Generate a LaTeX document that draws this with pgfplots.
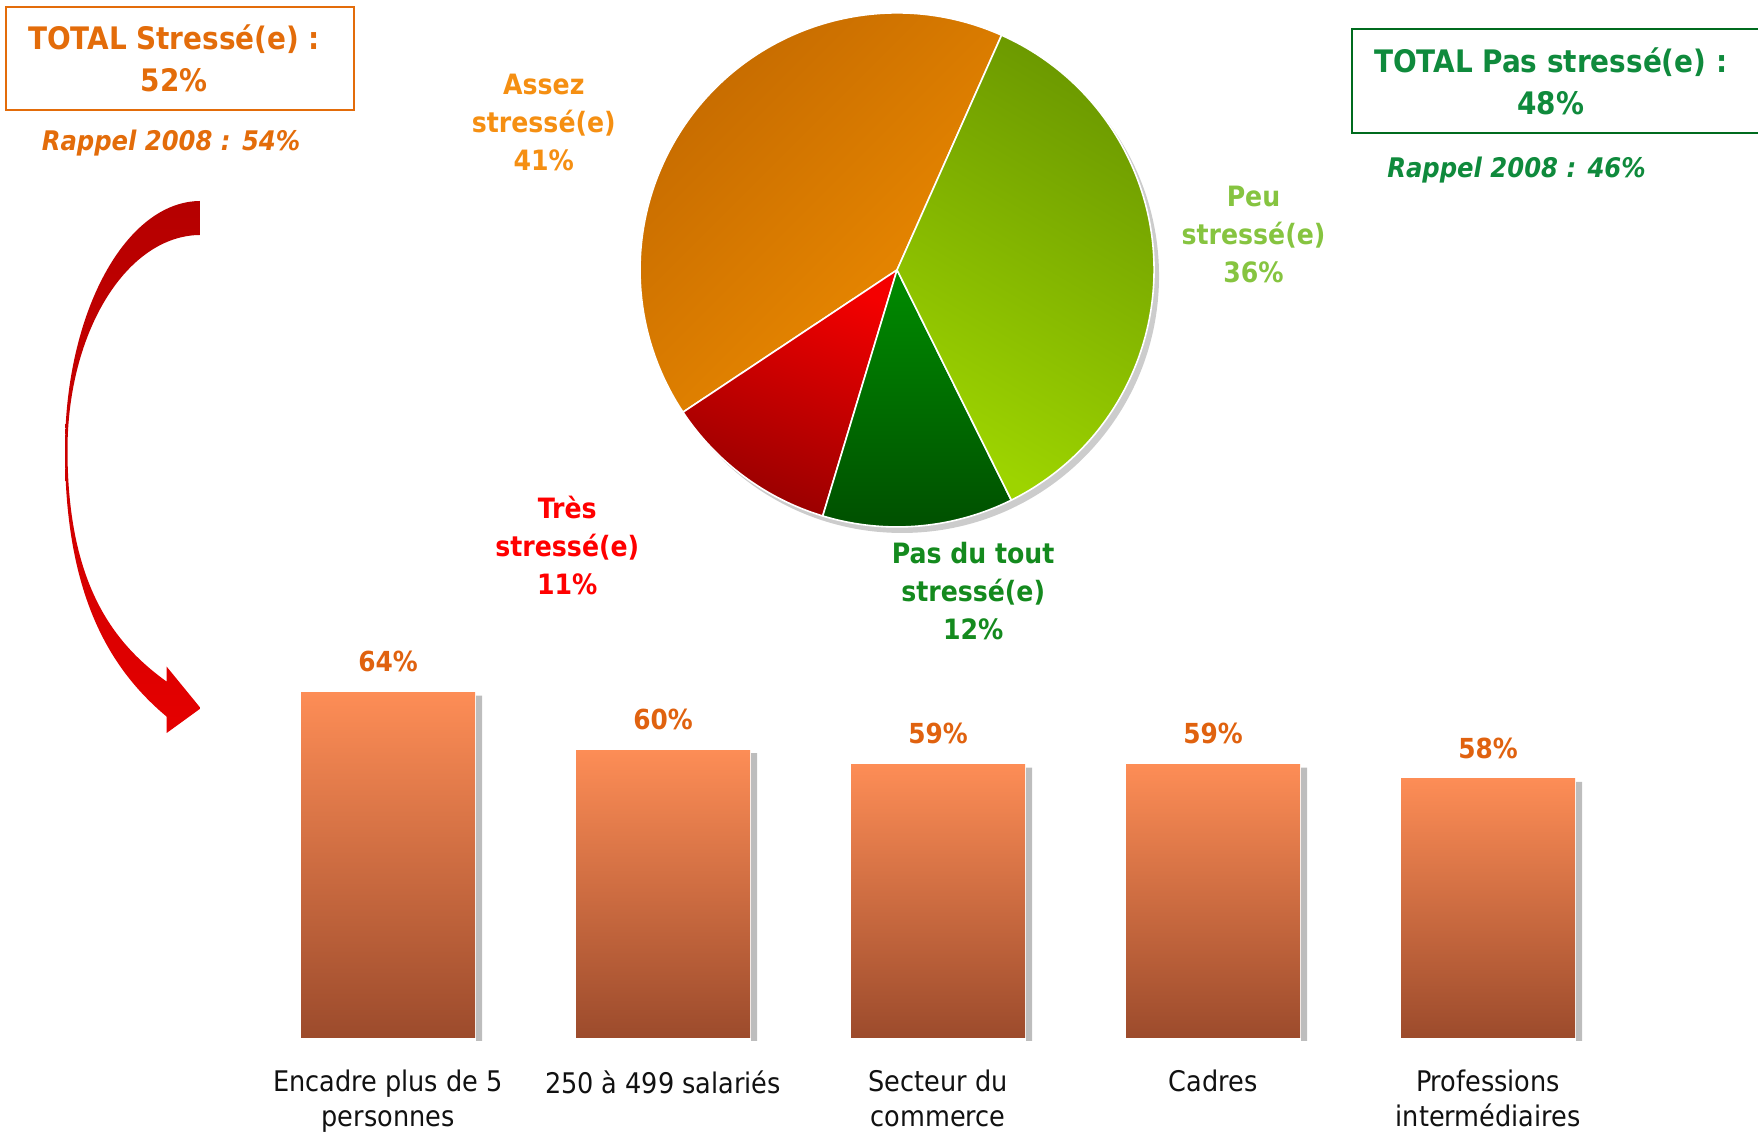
\documentclass[border=0pt]{standalone}
\usepackage{fontspec}
\setmainfont{DejaVu Sans Condensed}[BoldFont={DejaVu Sans Condensed Bold}, ItalicFont={DejaVu Sans Condensed Oblique}, BoldItalicFont={DejaVu Sans Condensed Bold Oblique}]
\usepackage{pgfplots}
\pgfplotsset{compat=1.18}
\usepackage{pgfplotstable}

\definecolor{orText}{HTML}{E36C0A}
\definecolor{barLab}{HTML}{E0620F}
\definecolor{grText}{HTML}{0F8A3C}
\definecolor{grBox}{HTML}{006B1E}
\definecolor{assezCol}{HTML}{F58F12}
\definecolor{peuCol}{HTML}{86C440}
\definecolor{tresCol}{HTML}{FF0000}
\definecolor{pasCol}{HTML}{148A1E}
\definecolor{orDark}{HTML}{C26800}
\definecolor{orLight}{HTML}{EE8C00}
\definecolor{lgDark}{HTML}{6A9700}
\definecolor{lgLight}{HTML}{9DD400}
\definecolor{dgTop}{HTML}{008C00}
\definecolor{dgBot}{HTML}{004E00}
\definecolor{rdTop}{HTML}{F40000}
\definecolor{rdBot}{HTML}{960000}
\definecolor{barTop}{HTML}{FD8D56}
\definecolor{barBot}{HTML}{9C4B2C}
\definecolor{shadowGray}{HTML}{BDBDBD}
\definecolor{arrTop}{HTML}{B50000}
\definecolor{arrBot}{HTML}{E50000}
\definecolor{catText}{HTML}{111111}

\pgfplotstableread{
label value
Assez 41
Tres 11
Pasdutout 12
Peu 36
}\piedata

\pgfplotstableread{
x value
0 64
1 60
2 59
3 59
4 58
}\bardata

\begin{document}%
\begin{tikzpicture}[x=0.5bp,y=0.5bp]
\pgfplotstablegetelem{0}{value}\of\piedata \let\vA\pgfplotsretval
\pgfplotstablegetelem{1}{value}\of\piedata \let\vB\pgfplotsretval
\pgfplotstablegetelem{2}{value}\of\piedata \let\vC\pgfplotsretval
\pgfplotstablegetelem{3}{value}\of\piedata \let\vD\pgfplotsretval
\pgfmathsetmacro\aS{66}
\pgfmathsetmacro\aA{\aS+3.6*\vA}
\pgfmathsetmacro\aB{\aA+3.6*\vB}
\pgfmathsetmacro\aC{\aB+3.6*\vC}
\pgfmathsetmacro\aD{\aC+3.6*\vD}
\def\R{128.5bp}
\path[use as bounding box] (0,0) rectangle (1758,1133);

% ---------- curved arrow ----------
\path[top color=arrTop, bottom color=arrBot]
  (200.7,932) .. controls (125.8,932) and (65,820.5) .. (65,683)
  .. controls (65,533) and (113.1,461.3) .. (166.7,416.3)
  -- (166.7,400) -- (200.7,424.7) -- (166.7,466.3) -- (166.7,451.3)
  .. controls (118.1,486.6) and (67.5,543) .. (67.5,683)
  .. controls (67.5,801.7) and (127.1,898) .. (200.7,898) -- cycle;

% ---------- top boxes ----------
\draw[orText, line width=1bp] (5.6,1023) rectangle (354,1126.3);
\node[align=center, text=orText, font=\fontsize{15.5bp}{20.75bp}\selectfont\bfseries] at (174,1074.5) {TOTAL Stressé(e) :\\52\%};
\node[text=orText, font=\fontsize{13.5bp}{16bp}\selectfont\bfseries\itshape] at (171,989.5) {Rappel 2008 : 54\%};

\draw[grBox, line width=1bp] (1352,1000) rectangle (1775,1104);
\node[align=center, text=grText, font=\fontsize{15.5bp}{20.75bp}\selectfont\bfseries] at (1550.6,1051.75) {TOTAL Pas stressé(e) :\\48\%};
\node[text=grText, font=\fontsize{13.5bp}{16bp}\selectfont\bfseries\itshape] at (1516.5,962.6) {Rappel 2008 : 46\%};

% ---------- pie ----------
\begin{axis}[at={(448.5bp,431.5bp)}, anchor=center, x=0.5bp, y=0.5bp,
  xmin=-300, xmax=300, ymin=-300, ymax=300, hide axis, clip=false]
\addplot[draw=none] coordinates {(0,0)};
\fill[black!20] (axis cs:5,-6) circle[radius=\R];
\path[top color=orDark, bottom color=orLight, shading angle=45, draw=white, line width=0.8bp, line join=round]
  (axis cs:0,0) -- ++(\aS:\R) arc[start angle=\aS, end angle=\aA, radius=\R] -- cycle;
\path[top color=rdTop, bottom color=rdBot, shading angle=-20, draw=white, line width=0.8bp, line join=round]
  (axis cs:0,0) -- ++(\aA:\R) arc[start angle=\aA, end angle=\aB, radius=\R] -- cycle;
\path[top color=dgTop, bottom color=dgBot, draw=white, line width=0.8bp, line join=round]
  (axis cs:0,0) -- ++(\aB:\R) arc[start angle=\aB, end angle=\aC, radius=\R] -- cycle;
\path[top color=lgDark, bottom color=lgLight, shading angle=-30, draw=white, line width=0.8bp, line join=round]
  (axis cs:0,0) -- ++(\aC:\R) arc[start angle=\aC, end angle=\aD, radius=\R] -- cycle;
\end{axis}

\node[align=center, text=assezCol, font=\fontsize{14bp}{19bp}\selectfont\bfseries] at (543.8,1010.8) {Assez\\stressé(e)\\41\%};
\node[align=center, text=peuCol, font=\fontsize{14bp}{19bp}\selectfont\bfseries] at (1253.5,898.7) {Peu\\stressé(e)\\36\%};
\node[align=center, text=tresCol, font=\fontsize{14bp}{19bp}\selectfont\bfseries] at (567.3,587) {Très\\stressé(e)\\11\%};
\node[align=center, text=pasCol, font=\fontsize{14bp}{19bp}\selectfont\bfseries] at (973.2,542.1) {Pas du tout\\stressé(e)\\12\%};

% ---------- bars ----------
\begin{axis}[at={(125.25bp,47.5bp)}, anchor=south west,
  x=137.5bp, y=7.195bp, xmin=-0.5, xmax=4.5, ymin=40, ymax=70,
  axis line style={draw=none}, ytick=\empty, xtick={0,1,2,3,4},
  xticklabels={{Encadre plus de 5\\personnes},{250 à 499 salariés},{Secteur du\\commerce},{Cadres},{Professions\\intermédiaires}},
  major tick length=0pt, clip=false,
  xticklabel style={align=center, anchor=north, inner sep=0pt, yshift=-16bp, text=catText, font=\fontsize{14.2bp}{17.5bp}\selectfont},
  /pgf/number format/assume math mode=true,
  ybar, bar width=87bp, bar shift=0pt,
  mainbar/.style={draw=none, top color=barTop, bottom color=barBot,
    nodes near coords={\pgfmathprintnumber{\pgfplotspointmeta}\%},
    every node near coord/.append style={anchor=center, yshift=15.5bp, text=barLab, font=\fontsize{13.8bp}{16bp}\selectfont\bfseries}},
  shadowbar/.style={draw=none, fill=shadowGray, bar width=3bp, bar shift=45.5bp, yshift=-1.5bp, forget plot}]
\addplot[shadowbar] table[x=x, y=value] {\bardata};
\addplot[mainbar] table[x=x, y=value, skip coords between index={1}{5}] {\bardata};
\addplot[mainbar] table[x=x, y=value, skip coords between index={0}{1}, skip coords between index={2}{5}] {\bardata};
\addplot[mainbar] table[x=x, y=value, skip coords between index={0}{2}, skip coords between index={3}{5}] {\bardata};
\addplot[mainbar] table[x=x, y=value, skip coords between index={0}{3}, skip coords between index={4}{5}] {\bardata};
\addplot[mainbar] table[x=x, y=value, skip coords between index={0}{4}] {\bardata};
\end{axis}
\end{tikzpicture}%
\end{document}
